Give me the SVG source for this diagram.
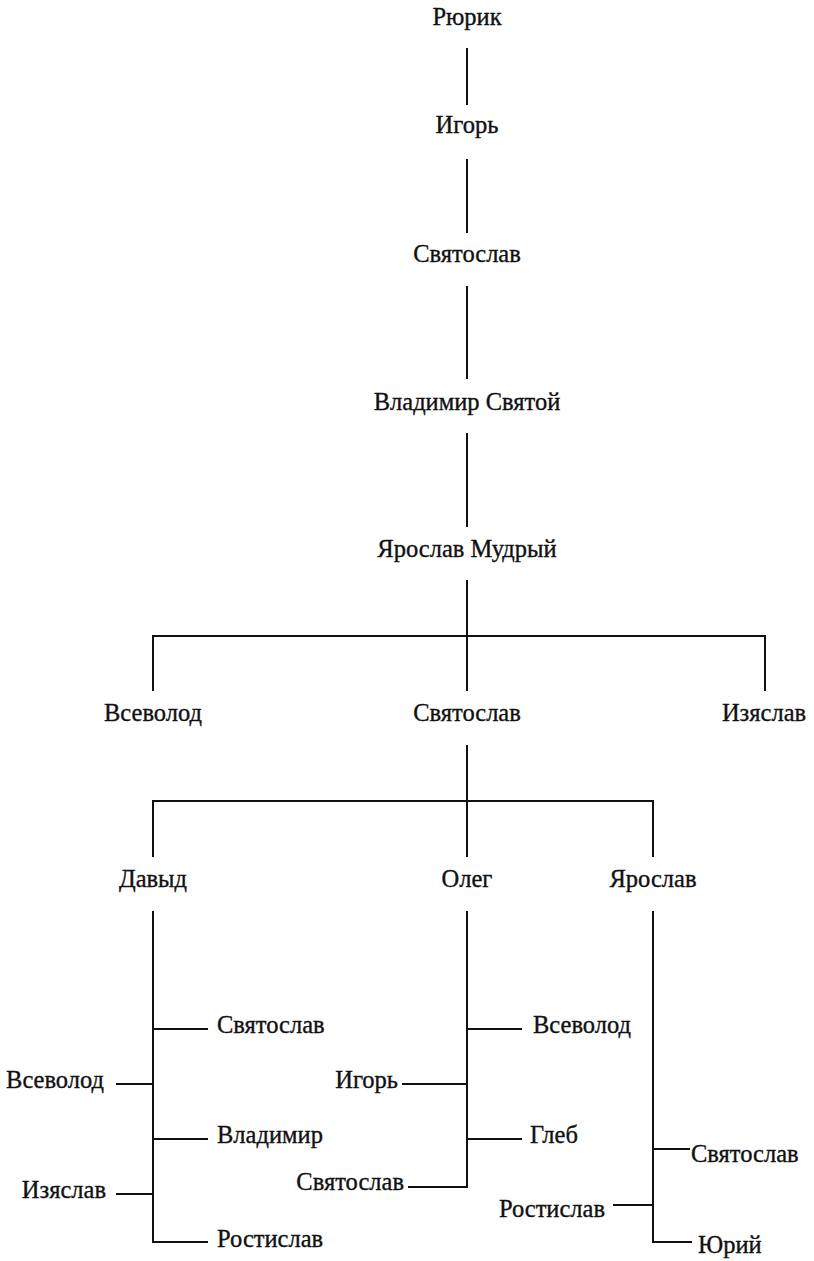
<svg xmlns="http://www.w3.org/2000/svg" width="814" height="1261" viewBox="0 0 814 1261">
<style>
text{font-family:"Liberation Serif","Times New Roman","DejaVu Serif",serif;font-size:24.5px;fill:#111;stroke:#111;stroke-width:0.35}
.c{text-anchor:middle}
.e{text-anchor:end}
.s{text-anchor:start}
.ln{stroke:#111;stroke-width:2;fill:none}
</style>
<rect width="814" height="1261" fill="#fff"/>
<g id="connectors" class="ln">
<path d="M467 48V105M467 159V233M467 286V379M467 433V527M467 580V691"/>
<path d="M153 691V636H765V691"/>
<path d="M467 745V857M153 857V801H653V857"/>
<path d="M153 911V1242H208M153 1029H208M153 1139H208M116 1084H153M116 1194H153"/>
<path d="M467 911V1187H408M467 1029H522M467 1139H522M402 1084H467"/>
<path d="M653 911V1242H692M653 1149H690M613 1205H653"/>
</g>
<g id="n-rurik"><text class="c" x="467" y="25">Рюрик</text></g>
<g id="n-igor"><text class="c" x="467" y="133">Игорь</text></g>
<g id="n-svyatoslav1"><text class="c" x="467" y="262">Святослав</text></g>
<g id="n-vladimir"><text class="c" x="467" y="410">Владимир Святой</text></g>
<g id="n-yaroslav"><text class="c" x="467" y="557">Ярослав Мудрый</text></g>
<g id="n-vsevolod"><text class="c" x="153" y="721">Всеволод</text></g>
<g id="n-svyatoslav2"><text class="c" x="467" y="721">Святослав</text></g>
<g id="n-izyaslav"><text class="c" x="764" y="721">Изяслав</text></g>
<g id="n-david"><text class="c" x="153" y="887">Давыд</text></g>
<g id="n-oleg"><text class="c" x="467" y="887">Олег</text></g>
<g id="n-yaroslav2"><text class="c" x="653" y="887">Ярослав</text></g>
<g id="n-d-svyatoslav"><text class="s" x="217" y="1033">Святослав</text></g>
<g id="n-d-vsevolod"><text class="e" x="104" y="1088">Всеволод</text></g>
<g id="n-d-vladimir"><text class="s" x="217" y="1143">Владимир</text></g>
<g id="n-d-izyaslav"><text class="e" x="106" y="1198">Изяслав</text></g>
<g id="n-d-rostislav"><text class="s" x="217" y="1247">Ростислав</text></g>
<g id="n-o-vsevolod"><text class="s" x="533" y="1033">Всеволод</text></g>
<g id="n-o-igor"><text class="e" x="398" y="1088">Игорь</text></g>
<g id="n-o-gleb"><text class="s" x="530" y="1143">Глеб</text></g>
<g id="n-o-svyatoslav"><text class="e" x="404" y="1190">Святослав</text></g>
<g id="n-y-svyatoslav"><text class="s" x="691" y="1162">Святослав</text></g>
<g id="n-y-rostislav"><text class="e" x="605" y="1217">Ростислав</text></g>
<g id="n-y-yuri"><text class="s" x="698" y="1253">Юрий</text></g>
</svg>
